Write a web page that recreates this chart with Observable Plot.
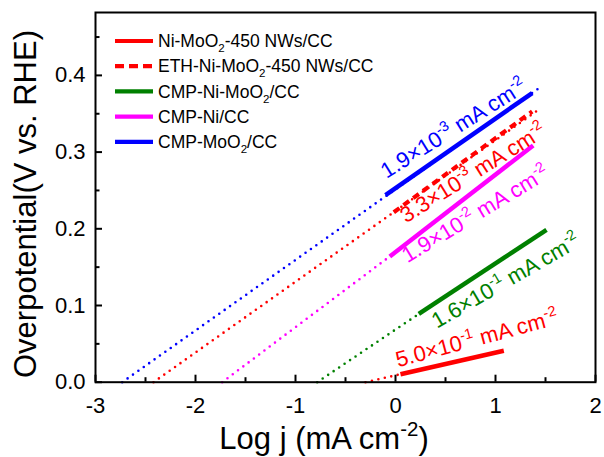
<!DOCTYPE html>
<html><head><meta charset="utf-8">
<script src="https://cdn.jsdelivr.net/npm/d3@7"></script>
<script src="https://cdn.jsdelivr.net/npm/@observablehq/plot@0.6"></script>
<style>body{margin:0;background:#fff} svg{font-family:"Liberation Sans",Arial,Helvetica,sans-serif}</style>
</head><body><div id="chart"></div>
<script>
const seriesNames = ["Ni-MoO_{2}-450 NWs/CC", "ETH-Ni-MoO_{2}-450 NWs/CC", "CMP-Ni-MoO_{2}/CC", "CMP-Ni/CC", "CMP-MoO_{2}/CC"];
const seriesColors = ["#ff0000", "#ff0000", "#008000", "#ff00ff", "#0000ff"];
// measured Tafel segments (log j, overpotential)
const solidX1 = [0.05, -0.017, 0.233, -0.057, -0.10];
const solidY1 = [0.0104, 0.2216, 0.089, 0.164, 0.244];
const solidX2 = [1.083, 1.367, 1.51, 1.377, 1.367];
const solidY2 = [0.041, 0.353, 0.1987, 0.3086, 0.377];
// dotted extrapolations from the x-intercept (log j0)
const dotX1 = [-0.30, -2.42, -0.783, -1.733, -2.733];
const dotX2 = [0.05, 1.45, 0.233, -0.057, 1.43];
const dotY2 = [0.0104, 0.357, 0.089, 0.164, 0.383];
// exchange current density annotations
const exchangeLabels = ["5.0×10^{-1} mA cm^{-2}", "3.3×10^{-3} mA cm^{-2}", "1.6×10^{-1} mA cm^{-2}", "1.9×10^{-2} mA cm^{-2}", "1.9×10^{-3} mA cm^{-2}"];
const labelX = [0.025, 0.105, 0.415, 0.12, -0.09];
const labelY = [0.0196, 0.207, 0.0696, 0.155, 0.265];
const labelAngle = [-15, -32, -30, -31, -32];
const xTicks = [-3, -2, -1, 0, 1, 2];
const xMinor = [-2.5, -1.5, -0.5, 0.5, 1.5];
const yTicks = [0, 0.1, 0.2, 0.3, 0.4];
const yMinor = [0.05, 0.15, 0.25, 0.35, 0.45];

const rows = seriesNames.map((name, i) => ({
  name, color: seriesColors[i],
  sx1: solidX1[i], sy1: solidY1[i], sx2: solidX2[i], sy2: solidY2[i],
  dx1: dotX1[i], dy1: 0, dx2: dotX2[i], dy2: dotY2[i],
  label: exchangeLabels[i], lx: labelX[i], ly: labelY[i], la: labelAngle[i]
}));

const W = 604, H = 457, mL = 95, mR = 9, mT = 12, mB = 75.3;
const plotW = W - mL - mR, plotH = H - mT - mB;
const majorLen = 7, minorLen = 4.5;

const chart = Plot.plot({
  width: W, height: H,
  marginLeft: mL, marginRight: mR, marginTop: mT, marginBottom: mB,
  style: {background: "white", color: "black", fontFamily: '"Liberation Sans",Arial,sans-serif'},
  x: {domain: [-3, 2]},
  y: {domain: [0, 0.482]},
  marks: [
    Plot.link(rows, {x1: "dx1", y1: "dy1", x2: "dx2", y2: "dy2", stroke: "color", strokeWidth: 2.6, strokeDasharray: "0 6.6", strokeLinecap: "round"}),
    Plot.link(rows.filter((d, i) => i !== 1), {x1: "sx1", y1: "sy1", x2: "sx2", y2: "sy2", stroke: "color", strokeWidth: 4.5}),
    Plot.link(rows.filter((d, i) => i === 1), {x1: "sx1", y1: "sy1", x2: "sx2", y2: "sy2", stroke: "color", strokeWidth: 4.2, strokeDasharray: "7 5"}),
    Plot.text(rows, {x: "lx", y: "ly", text: "label", rotate: "la", fill: "color", fontSize: 22, textAnchor: "start", lineAnchor: "bottom"}),
    Plot.axisX({ticks: xTicks, tickSize: 0, tickPadding: 15, fontSize: 22, tickFormat: d => String(d), label: null}),
    Plot.axisY({ticks: yTicks, tickSize: 0, tickPadding: 10, fontSize: 22, tickFormat: d3.format(".1f"), label: null}),
    // inward tick marks
    Plot.ruleX(xTicks, {x: d => d, insetTop: plotH - majorLen, stroke: "black", strokeWidth: 2}),
    Plot.ruleX(xMinor, {x: d => d, insetTop: plotH - minorLen, stroke: "black", strokeWidth: 2}),
    Plot.ruleY(yTicks, {y: d => d, insetRight: plotW - majorLen, stroke: "black", strokeWidth: 2}),
    Plot.ruleY(yMinor, {y: d => d, insetRight: plotW - minorLen, stroke: "black", strokeWidth: 2}),
    Plot.frame({stroke: "black", strokeWidth: 2})
  ]
});
document.getElementById("chart").appendChild(chart);

const svgNS = "http://www.w3.org/2000/svg";
function richText(el, fs) {
  const s = el.textContent;
  if (!/[\^_]\{/.test(s)) return;
  const parts = []; const re = /([\^_])\{([^}]*)\}/g; let last = 0, m;
  while ((m = re.exec(s))) {
    if (m.index > last) parts.push({t: s.slice(last, m.index), k: 0});
    parts.push({t: m[2], k: m[1] === "^" ? 1 : -1});
    last = re.lastIndex;
  }
  if (last < s.length) parts.push({t: s.slice(last), k: 0});
  while (el.firstChild) el.removeChild(el.firstChild);
  let shift = 0;
  for (const p of parts) {
    const ts = document.createElementNS(svgNS, "tspan");
    const target = p.k === 1 ? -0.42 * fs : p.k === -1 ? 0.28 * fs : 0;
    const dy = target - shift; shift = target;
    if (dy) ts.setAttribute("dy", dy);
    if (p.k) ts.setAttribute("font-size", 0.66 * fs);
    ts.textContent = p.t;
    el.appendChild(ts);
  }
}

const svg = d3.select(chart);
svg.selectAll("text").each(function() {
  const fs = parseFloat(getComputedStyle(this).fontSize) || 20;
  richText(this, fs);
});

// legend
const lg = svg.append("g").attr("text-anchor", "start");
seriesNames.forEach((name, i) => {
  const y = 41 + 25.2 * i;
  lg.append("line").attr("x1", 115).attr("x2", 153).attr("y1", y).attr("y2", y)
    .attr("stroke", seriesColors[i]).attr("stroke-width", 4.2)
    .attr("stroke-dasharray", i === 1 ? "9 5" : null);
  const t = lg.append("text").attr("x", 158).attr("y", y + 6.2).attr("text-anchor", "start")
    .attr("font-size", 17.5).attr("fill", "black").text(name);
  richText(t.node(), 17.5);
});

// axis titles
const xt = svg.append("text").attr("x", 324).attr("y", 449).attr("text-anchor", "middle")
  .attr("font-size", 31).attr("fill", "black").text("Log j (mA cm^{-2})");
richText(xt.node(), 31);
svg.append("text").attr("transform", "translate(36,204) rotate(-90)").attr("text-anchor", "middle")
  .attr("font-size", 31).attr("fill", "black").text("Overpotential(V vs. RHE)");
</script>
</body></html>
